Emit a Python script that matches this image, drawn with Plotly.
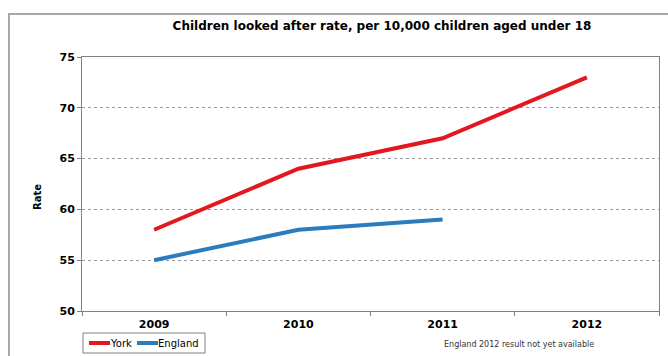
import plotly.graph_objects as go

# Children looked after rate per 10,000 children aged under 18
years = ["2009", "2010", "2011", "2012"]
york = [58, 64, 67, 73]
england_years = ["2009", "2010", "2011"]
england = [55, 58, 59]

series = [
    ("York", years, york, "#E3171E"),
    ("England", england_years, england, "#2B7BBF"),
]

W, H = 668, 356
L, R, T, B = 82, 9, 57, 45
pw, ph = W - L - R, H - T - B


def px_x(p):
    return (p - L) / pw


def px_y(p):
    return (H - B - p) / ph


font_main = "DejaVu Sans"

fig = go.Figure()
for name, xs, ys, color in series:
    fig.add_trace(go.Scatter(x=xs, y=ys, mode="lines", name=name,
                             line=dict(color=color, width=4)))

fig.update_layout(
    width=W, height=H,
    margin=dict(l=L, r=R, t=T, b=B, autoexpand=False),
    paper_bgcolor="white", plot_bgcolor="white",
    title=dict(text="<b>Children looked after rate, per 10,000 children aged under 18</b>",
               x=382 / W, xref="container", xanchor="center",
               y=1 - 26 / H, yref="container", yanchor="middle",
               font=dict(family=font_main, size=12, color="#000")),
    showlegend=False,
    xaxis=dict(type="category", range=[-0.5, 3.5], tickson="boundaries",
               ticks="outside", ticklen=4, tickcolor="#808080",
               showline=True, linecolor="#808080", linewidth=1, mirror=True,
               showgrid=False, zeroline=False, ticklabelstandoff=3,
               tickprefix="<b>", ticksuffix="</b>",
               tickfont=dict(family=font_main, size=11, color="#000")),
    yaxis=dict(range=[50, 75], dtick=5, ticks="outside", ticklen=4, tickcolor="#808080",
               showline=True, linecolor="#808080", linewidth=1, mirror=True,
               showgrid=True, gridcolor="#9A9A9A", griddash="dot", gridwidth=1,
               zeroline=False,
               tickprefix="<b>", ticksuffix="</b>",
               tickfont=dict(family=font_main, size=11, color="#000")),
)

# y-axis title
fig.add_annotation(text="<b>Rate</b>", xref="paper", yref="paper",
                   x=px_x(37), y=px_y(197), xanchor="center", yanchor="middle",
                   textangle=-90, showarrow=False,
                   font=dict(family=font_main, size=10, color="#000"))

# footnote
fig.add_annotation(text="England 2012 result not yet available", xref="paper", yref="paper",
                   x=px_x(519), y=px_y(344), xanchor="center", yanchor="middle",
                   showarrow=False,
                   font=dict(family=font_main, size=8, color="#333"))

# compact legend box below the axis
fig.add_shape(type="rect", xref="paper", yref="paper",
              x0=px_x(83), x1=px_x(205), y0=px_y(353), y1=px_y(333),
              line=dict(color="#808080", width=1), fillcolor="white")
legend_slots = [(89, 110), (137, 158)]
for (name, _, _, color), (sx, tx) in zip(series, legend_slots):
    fig.add_shape(type="line", xref="paper", yref="paper",
                  x0=px_x(sx), x1=px_x(sx + 21), y0=px_y(343), y1=px_y(343),
                  line=dict(color=color, width=4))
    fig.add_annotation(text=name, xref="paper", yref="paper",
                       x=px_x(tx), y=px_y(343), xanchor="left", yanchor="middle",
                       showarrow=False, xshift=-2,
                       font=dict(family=font_main, size=10, color="#000"))

# outer chart frame
fig.add_shape(type="rect", xref="paper", yref="paper",
              x0=px_x(9), x1=px_x(700), y0=px_y(400), y1=px_y(14),
              line=dict(color="#A8A8A8", width=2), layer="below")

fig.write_html("out.html")
